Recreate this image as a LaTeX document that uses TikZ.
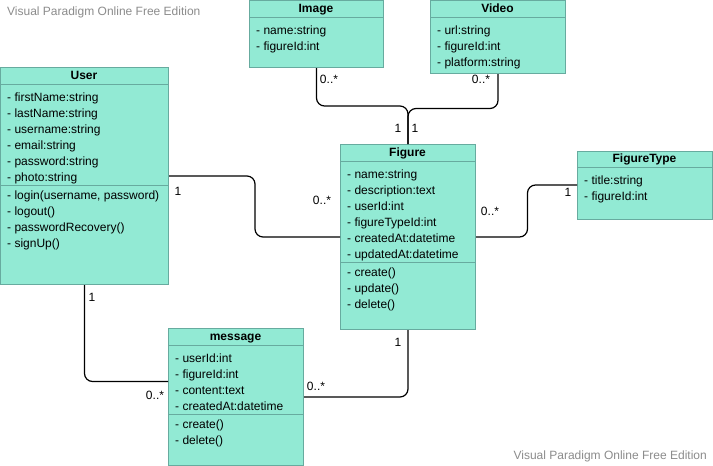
\documentclass[tikz,border=0pt]{standalone}
\usepackage{fontspec}
\setmainfont{Liberation Sans}

\definecolor{classfill}{HTML}{92EAD4}
\definecolor{classborder}{HTML}{67AB9F}
\definecolor{wmgray}{HTML}{8C8C8C}

\tikzset{
  classbox/.style={draw=classborder, fill=classfill, line width=1pt, inner sep=0pt},
  classline/.style={draw=classborder, line width=1pt},
  classtitle/.style={anchor=base, inner sep=0pt, font=\fontsize{12}{14}\selectfont\bfseries},
  member/.style={anchor=base west, inner sep=0pt, font=\fontsize{12}{14}\selectfont},
  assoc/.style={draw=black, line width=1.2pt, rounded corners=8pt},
  mult/.style={inner sep=0pt, font=\fontsize{12}{14}\selectfont},
  watermark/.style={inner sep=0pt, text=wmgray, font=\fontsize{12}{14}\selectfont},
}

% name, left, top, width, height, title, attributes, methods
\newcommand{\umlclass}[8]{%
  \node[classbox, minimum width=#4pt, minimum height=#5pt, anchor=north west] (#1) at (#2,#3) {};
  \node[classtitle] (#1-title) at ({#2+#4/2},{#3+12.3}) {#6};
  \draw[classline] (#2,{#3+17}) -- ({#2+#4},{#3+17});
  \foreach \entry [count=\i] in {#7}
    {\node[member] (#1-a\i) at ({#2+7},{#3+34+16*(\i-1)}) {- \entry};
     \xdef\nattr{\i}}
  \if\relax\detokenize{#8}\relax\else
    \draw[classline] (#2,{#3+22+16*\nattr}) -- ({#2+#4},{#3+22+16*\nattr});
    \foreach \entry [count=\i] in {#8}
      {\node[member] (#1-m\i) at ({#2+7},{#3+36.5+16*\nattr+16*(\i-1)}) {- \entry};}
  \fi
}

\begin{document}
\begin{tikzpicture}[x=1pt, y=-1pt]
  \fill[white] (0,0) rectangle (713,466);
  \useasboundingbox (0,0) rectangle (713,466);

  \node[watermark, anchor=west] (wm-top) at (7,12) {Visual Paradigm Online Free Edition};
  \node[watermark, anchor=east] (wm-bottom) at (707,456) {Visual Paradigm Online Free Edition};

  %classes
  \umlclass{image}{249}{0}{134}{67}{Image}{name:string, figureId:int}{}
  \umlclass{video}{430}{0}{135}{73}{Video}{url:string, figureId:int, platform:string}{}
  \umlclass{user}{0}{67}{168}{217}{User}{firstName:string, lastName:string, username:string, email:string, password:string, photo:string}{{login(username, password)}, logout(), passwordRecovery(), signUp()}
  \umlclass{figure}{340}{144}{135}{185}{Figure}{name:string, description:text, userId:int, figureTypeId:int, createdAt:datetime, updatedAt:datetime}{create(), update(), delete()}
  \umlclass{figtype}{577}{150.5}{135}{68}{FigureType}{title:string, figureId:int}{}
  \umlclass{message}{168}{328}{135}{137}{message}{userId:int, figureId:int, content:text, createdAt:datetime}{create(), delete()}

  %associations
  \draw[assoc] (user.east) -- ++(86,0) |- (figure.west);
  \draw[assoc] (image.south) |- ([yshift=38pt]figure.north) -- (figure.north);
  \draw[assoc] (video.south) |- ([yshift=35.5pt]figure.north) -- (figure.north);
  \draw[assoc] (figure.east) -- ++(51.5,0) |- (figtype.west);
  \draw[assoc] (user.south) |- ([yshift=15.5pt]message.west);
  \draw[assoc] (figure.south) |- (message.east);

  %multiplicities
  \node[mult] (uf-1) at (178,191.5) {1};
  \node[mult] (uf-n) at (322,200) {0..*};
  \node[mult] (if-n) at (329,79) {0..*};
  \node[mult] (if-1) at (398,128.5) {1};
  \node[mult] (vf-n) at (481,79) {0..*};
  \node[mult] (vf-1) at (415,128.5) {1};
  \node[mult] (ft-n) at (490,211) {0..*};
  \node[mult] (ft-1) at (568,192) {1};
  \node[mult] (um-1) at (92,297) {1};
  \node[mult] (um-n) at (155,395) {0..*};
  \node[mult] (fm-1) at (398,342) {1};
  \node[mult] (fm-n) at (316,386) {0..*};
\end{tikzpicture}
\end{document}
